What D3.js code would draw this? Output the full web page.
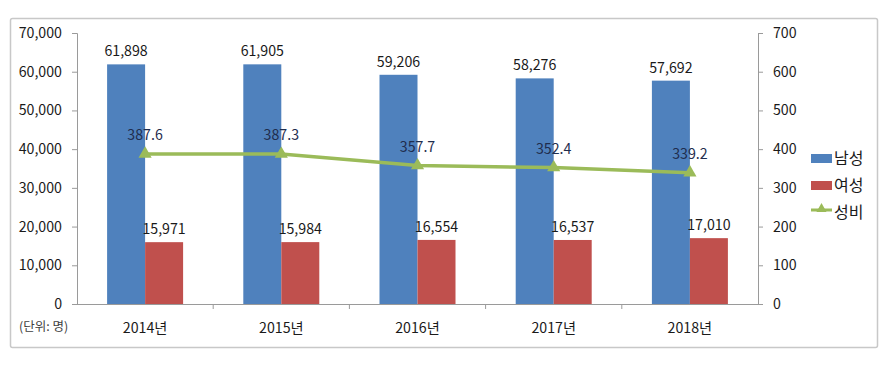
<!DOCTYPE html>
<html><head><meta charset="utf-8">
<script src="https://cdn.jsdelivr.net/npm/d3@7"></script>
<style>
body{margin:0;background:#fff;}
text{font-family:"Noto Sans CJK KR","Noto Sans",sans-serif;}
</style></head>
<body>
<svg id="c" width="889" height="383"></svg>
<script>
const categories = ["2014년","2015년","2016년","2017년","2018년"];
const male = [61898,61905,59206,58276,57692];
const female = [15971,15984,16554,16537,17010];
const ratio = [387.6,387.3,357.7,352.4,339.2];
const leftTicks = [0,10000,20000,30000,40000,50000,60000,70000];
const rightTicks = [0,100,200,300,400,500,600,700];
const seriesNames = ["남성","여성","성비"];
const unitLabel = "(단위: 명)";

const colors = {male:"#4F81BD", female:"#C0504D", ratio:"#9BBB59"};
const svg = d3.select("#c");
const L = 77, R = 758, T = 33, B = 304;
const fs = "14.2px";

svg.append("rect").attr("x",10.5).attr("y",18.5).attr("width",867).attr("height",329)
  .attr("fill","#fff").attr("stroke","#C8C8C8").attr("stroke-width",1.5).attr("rx",2);

const x = d3.scaleBand().domain(categories).range([L,R]).paddingInner(0).paddingOuter(0);
const y = d3.scaleLinear().domain([0,70000]).range([B,T]);
const y2 = d3.scaleLinear().domain([0,700]).range([B,T]);
const barW = 38;
const fmt = d3.format(",");

// axes
const axisColor = "#9A9A9A";
const gl = svg.append("g").attr("transform",`translate(${L},0)`)
  .call(d3.axisLeft(y).tickValues(leftTicks).tickFormat(fmt).tickSize(5).tickPadding(10));
const gr = svg.append("g").attr("transform",`translate(${R},0)`)
  .call(d3.axisRight(y2).tickValues(rightTicks).tickSize(5).tickPadding(10));
[gl,gr].forEach(g=>{
  g.select(".domain").attr("stroke",axisColor);
  g.selectAll(".tick line").attr("stroke",axisColor);
  g.selectAll(".tick text").attr("fill","#1a1a1a").style("font-size",fs);
});

// bars
svg.append("g").selectAll("rect").data(male).join("rect")
  .attr("x",(d,i)=>x(categories[i])+x.bandwidth()/2-barW).attr("width",barW)
  .attr("y",d=>y(d)).attr("height",d=>B-y(d)).attr("fill",colors.male);
svg.append("g").selectAll("rect").data(female).join("rect")
  .attr("x",(d,i)=>x(categories[i])+x.bandwidth()/2).attr("width",barW)
  .attr("y",d=>y(d)).attr("height",d=>B-y(d)).attr("fill",colors.female);

// x axis
const gx = svg.append("g").attr("transform",`translate(0,${B})`)
  .call(d3.axisBottom(x).tickSize(0).tickPadding(19));
gx.select(".domain").attr("stroke",axisColor).attr("d",`M${L},0.5H${R}`);
gx.selectAll(".tick text").attr("fill","#1a1a1a").style("font-size",fs);
svg.append("g").selectAll("line").data(categories.slice(1)).join("line")
  .attr("x1",d=>x(d)).attr("x2",d=>x(d)).attr("y1",B).attr("y2",B+5).attr("stroke",axisColor);

svg.append("text").attr("x",19).attr("y",331).attr("fill","#404040")
  .style("font-size","12.5px").text(unitLabel);

// bar labels
svg.append("g").selectAll("text").data(male).join("text")
  .attr("x",(d,i)=>x(categories[i])+x.bandwidth()/2-barW/2).attr("y",d=>y(d)-8)
  .attr("text-anchor","middle").attr("fill","#1a1a1a").style("font-size",fs).text(fmt);
svg.append("g").selectAll("text").data(female).join("text")
  .attr("x",(d,i)=>x(categories[i])+x.bandwidth()/2+barW/2).attr("y",d=>y(d)-8)
  .attr("text-anchor","middle").attr("fill","#1a1a1a").style("font-size",fs).text(fmt);

// line
const cx = c => x(c)+x.bandwidth()/2;
const line = d3.line().x((d,i)=>cx(categories[i])).y(d=>y2(d));
svg.append("path").datum(ratio).attr("d",line).attr("fill","none")
  .attr("stroke",colors.ratio).attr("stroke-width",3.5);
const tri = d3.symbol().type(d3.symbolTriangle).size(75);
svg.append("g").selectAll("path").data(ratio).join("path")
  .attr("d",tri).attr("transform",(d,i)=>`translate(${cx(categories[i])},${y2(d)})`)
  .attr("fill",colors.ratio);
svg.append("g").selectAll("text").data(ratio).join("text")
  .attr("x",(d,i)=>cx(categories[i])).attr("y",d=>y2(d)-14)
  .attr("text-anchor","middle").attr("fill","#1F2D4E").style("font-size",fs)
  .text(d=>d.toFixed(1));

// legend
const lg = svg.append("g").attr("transform","translate(811,0)");
lg.append("rect").attr("x",0).attr("y",154).attr("width",21).attr("height",9).attr("fill",colors.male);
lg.append("rect").attr("x",0).attr("y",181).attr("width",21).attr("height",9).attr("fill",colors.female);
lg.append("line").attr("x1",0).attr("x2",21).attr("y1",210).attr("y2",210).attr("stroke",colors.ratio).attr("stroke-width",3);
lg.append("path").attr("d",d3.symbol().type(d3.symbolTriangle).size(45)).attr("transform","translate(10.5,209)").attr("fill",colors.ratio);
lg.selectAll("text.lt").data(seriesNames).join("text").attr("class","lt")
  .attr("x",23).attr("y",(d,i)=>164+i*27).attr("fill","#1a1a1a").style("font-size","16px").text(d=>d);
</script>
</body></html>
